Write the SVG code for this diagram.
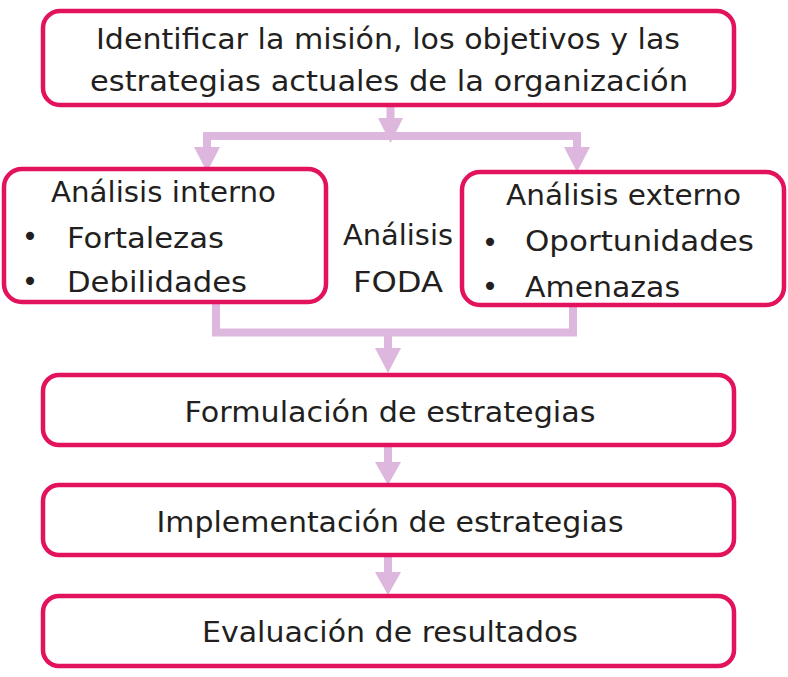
<svg xmlns="http://www.w3.org/2000/svg" width="788" height="677" viewBox="0 0 788 677">
<style>
.box{fill:#fff;stroke:#E3125C;stroke-width:4.5}
.t{font-family:"DejaVu Sans","Liberation Sans",sans-serif;font-size:28px;fill:#231F20}
.c{text-anchor:middle}
.con{fill:none;stroke:#DDB7DD;stroke-width:8}
.head{fill:#DDB7DD}
</style>
<rect width="788" height="677" fill="#fff"/>
<g id="connectors">
<path class="con" d="M390.5 106V120"/>
<polygon class="head" points="378,118 403,118 390.5,143"/>
<path class="con" d="M207 150V136H577V150"/>
<polygon class="head" points="194,147 220,147 207,172"/>
<polygon class="head" points="564,147 590,147 577,172"/>
<path class="con" d="M216 303V332.5H573V306"/>
<path class="con" d="M388 332V350"/>
<polygon class="head" points="375,348 401,348 388,373"/>
<path class="con" d="M388 446V465"/>
<polygon class="head" points="375,462 401,462 388,485"/>
<path class="con" d="M388 556V575"/>
<polygon class="head" points="375,572 401,572 388,595"/>
</g>
<g id="n1">
<rect class="box" x="43" y="11" width="691" height="94" rx="17"/>
<text class="t c" x="388" y="49" textLength="584" lengthAdjust="spacingAndGlyphs">Identificar la misión, los objetivos y las</text>
<text class="t c" x="389" y="91" textLength="598" lengthAdjust="spacingAndGlyphs">estrategias actuales de la organización</text>
</g>
<g id="n2">
<rect class="box" x="4" y="169" width="322" height="133" rx="18"/>
<text class="t" x="51" y="202" textLength="225" lengthAdjust="spacingAndGlyphs">Análisis interno</text>
<text class="t c" x="30" y="246">•</text>
<text class="t" x="67" y="248" textLength="157" lengthAdjust="spacingAndGlyphs">Fortalezas</text>
<text class="t c" x="30" y="291">•</text>
<text class="t" x="67" y="292" textLength="180" lengthAdjust="spacingAndGlyphs">Debilidades</text>
</g>
<g id="foda">
<text class="t c" x="398" y="245" textLength="110" lengthAdjust="spacingAndGlyphs">Análisis</text>
<text class="t c" x="398" y="292" textLength="90" lengthAdjust="spacingAndGlyphs">FODA</text>
</g>
<g id="n3">
<rect class="box" x="462" y="172" width="322" height="133" rx="18"/>
<text class="t" x="506" y="205" textLength="235" lengthAdjust="spacingAndGlyphs">Análisis externo</text>
<text class="t c" x="490" y="252">•</text>
<text class="t" x="525" y="251" textLength="229" lengthAdjust="spacingAndGlyphs">Oportunidades</text>
<text class="t c" x="490" y="296">•</text>
<text class="t" x="525" y="297" textLength="155" lengthAdjust="spacingAndGlyphs">Amenazas</text>
</g>
<g id="n4">
<rect class="box" x="43" y="375" width="691" height="70" rx="16"/>
<text class="t c" x="390" y="422" textLength="411" lengthAdjust="spacingAndGlyphs">Formulación de estrategias</text>
</g>
<g id="n5">
<rect class="box" x="43" y="485" width="691" height="70" rx="16"/>
<text class="t c" x="390" y="532" textLength="467" lengthAdjust="spacingAndGlyphs">Implementación de estrategias</text>
</g>
<g id="n6">
<rect class="box" x="43" y="596" width="691" height="70" rx="16"/>
<text class="t c" x="390" y="642" textLength="376" lengthAdjust="spacingAndGlyphs">Evaluación de resultados</text>
</g>
</svg>
